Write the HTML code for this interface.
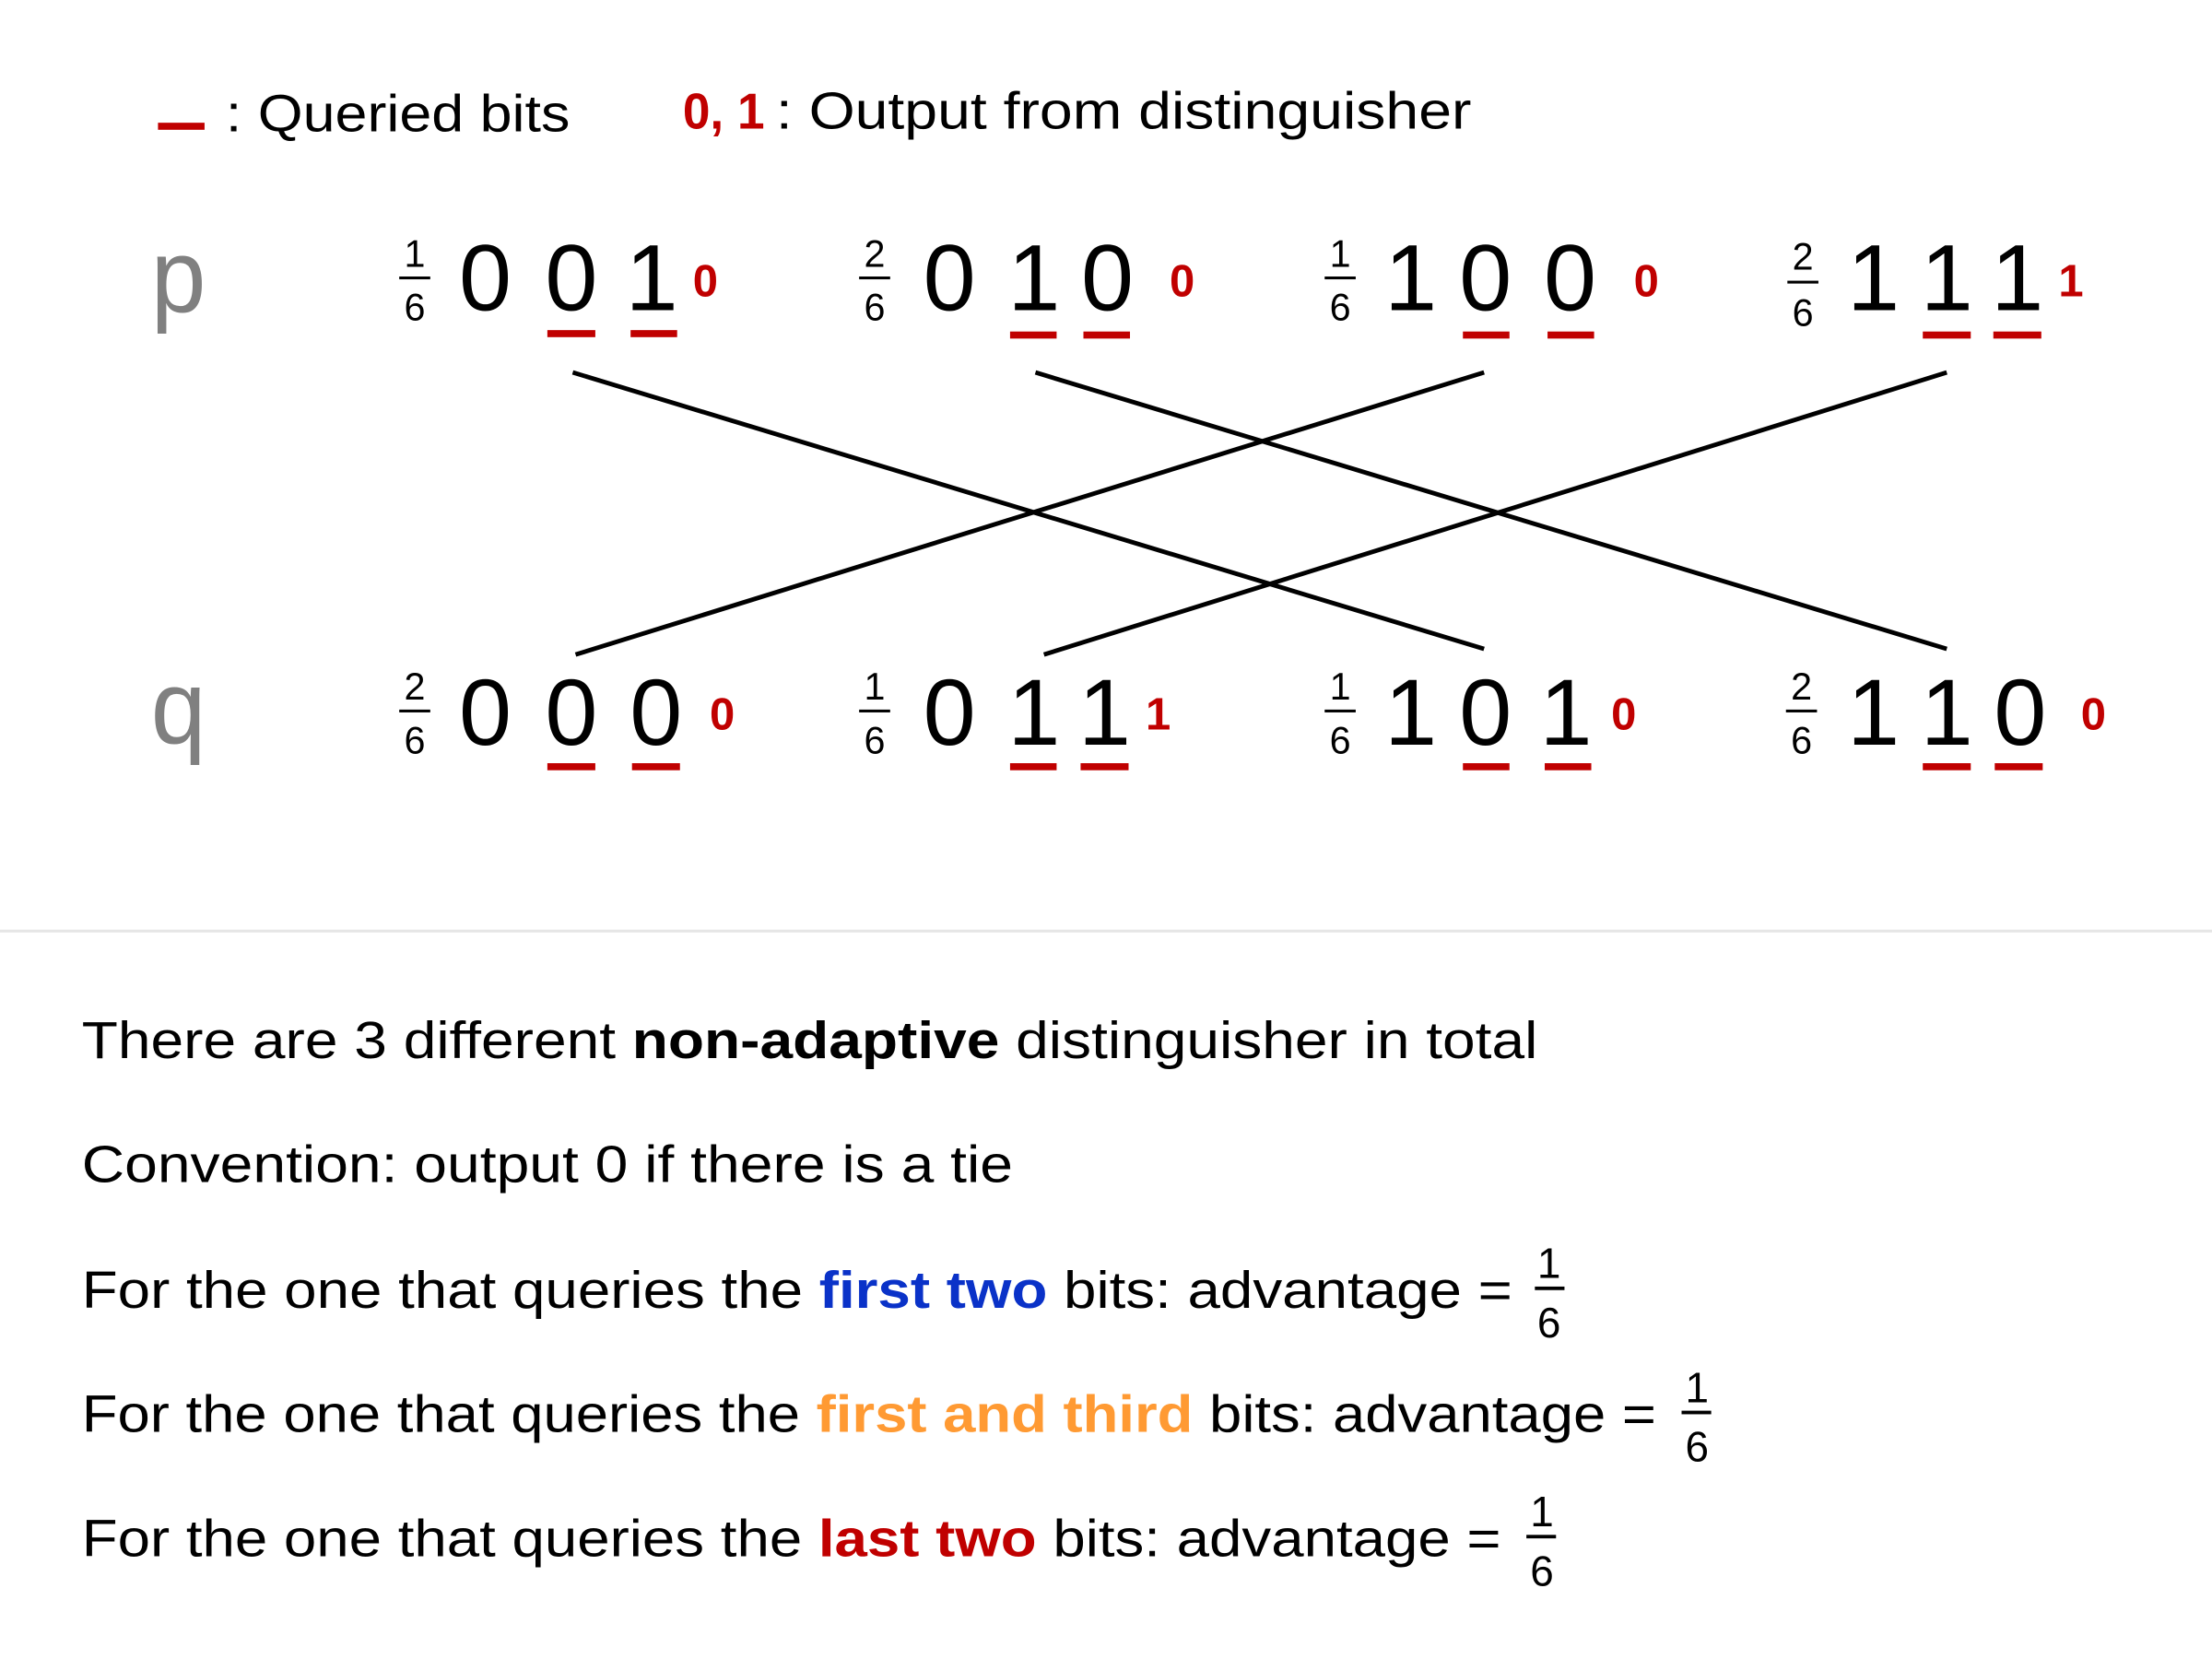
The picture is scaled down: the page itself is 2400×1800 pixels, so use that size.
<!DOCTYPE html>
<html><head><meta charset="utf-8"><style>
html,body{margin:0;padding:0;background:#fff;}
svg{display:block;}
text{font-family:"Liberation Sans",sans-serif;}
</style></head><body>
<svg width="2400" height="1800" viewBox="0 0 1568 1176" xmlns="http://www.w3.org/2000/svg">
<rect width="1568" height="1176" fill="#fff"/>
<rect x="112" y="87" width="33" height="5" fill="#c00000"/>
<text x="160" y="93" font-size="37" textLength="244" lengthAdjust="spacingAndGlyphs">: Queried bits</text>
<text x="484" y="91" font-size="36" font-weight="bold" fill="#c00000" textLength="58" lengthAdjust="spacingAndGlyphs">0, 1</text>
<text x="550" y="91" font-size="37" textLength="493" lengthAdjust="spacingAndGlyphs">: Output from distinguisher</text>

<text x="107" y="221" font-size="74" fill="#808080" textLength="39" lengthAdjust="spacingAndGlyphs">p</text>
<text x="107" y="527" font-size="74" fill="#808080" textLength="39" lengthAdjust="spacingAndGlyphs">q</text>

<g font-size="67" text-anchor="middle">
<text x="344" y="220">0</text><text x="405" y="220">0</text><text x="462" y="220">1</text>
<text x="673" y="220">0</text><text x="733" y="220">1</text><text x="785" y="220">0</text>
<text x="1000" y="220">1</text><text x="1053" y="220">0</text><text x="1113" y="220">0</text>
<text x="1328" y="220">1</text><text x="1380" y="220">1</text><text x="1430" y="220">1</text>

<text x="344" y="528">0</text><text x="405" y="528">0</text><text x="465" y="528">0</text>
<text x="673" y="528">0</text><text x="733" y="528">1</text><text x="783" y="528">1</text>
<text x="1000" y="528">1</text><text x="1053" y="528">0</text><text x="1110" y="528">1</text>
<text x="1328" y="528">1</text><text x="1380" y="528">1</text><text x="1432" y="528">0</text>
</g>

<g font-size="32" font-weight="bold" fill="#c00000" text-anchor="middle">
<text x="500" y="210">0</text><text x="838" y="210">0</text><text x="1167" y="210">0</text><text x="1468" y="210">1</text>
<text x="512" y="517">0</text><text x="821" y="517">1</text><text x="1151" y="517">0</text><text x="1484" y="517">0</text>
</g>

<g font-size="27" text-anchor="middle">
<text x="294" y="189">1</text><rect x="283" y="196" width="22" height="2" fill="#000"/><text x="294" y="227">6</text>
<text x="620" y="189">2</text><rect x="609" y="196" width="22" height="2" fill="#000"/><text x="620" y="227">6</text>
<text x="950" y="189">1</text><rect x="939" y="196" width="22" height="2" fill="#000"/><text x="950" y="227">6</text>
<text x="1278" y="191">2</text><rect x="1267" y="199" width="22" height="2" fill="#000"/><text x="1278" y="231">6</text>

<text x="294" y="496">2</text><rect x="283" y="503" width="22" height="2" fill="#000"/><text x="294" y="534">6</text>
<text x="620" y="496">1</text><rect x="609" y="503" width="22" height="2" fill="#000"/><text x="620" y="534">6</text>
<text x="950" y="496">1</text><rect x="939" y="503" width="22" height="2" fill="#000"/><text x="950" y="534">6</text>
<text x="1277" y="496">2</text><rect x="1266" y="503" width="22" height="2" fill="#000"/><text x="1277" y="534">6</text>
</g>

<g fill="#c00000">
<rect x="388" y="234" width="34" height="5"/><rect x="447" y="234" width="33" height="5"/>
<rect x="716" y="235" width="33" height="5"/><rect x="768" y="235" width="33" height="5"/>
<rect x="1037" y="235" width="33" height="5"/><rect x="1097" y="235" width="33" height="5"/>
<rect x="1363" y="235" width="34" height="5"/><rect x="1413" y="235" width="34" height="5"/>

<rect x="388" y="541" width="34" height="5"/><rect x="448" y="541" width="34" height="5"/>
<rect x="716" y="541" width="33" height="5"/><rect x="766" y="541" width="34" height="5"/>
<rect x="1037" y="541" width="33" height="5"/><rect x="1095" y="541" width="33" height="5"/>
<rect x="1363" y="541" width="34" height="5"/><rect x="1414" y="541" width="34" height="5"/>
</g>

<g stroke="#000" stroke-width="3.2">
<line x1="406" y1="264" x2="1052" y2="460"/>
<line x1="734" y1="264" x2="1380" y2="460"/>
<line x1="1052" y1="264" x2="408" y2="464"/>
<line x1="1380" y1="264" x2="740" y2="464"/>
</g>

<rect x="0" y="659" width="1568" height="2" fill="#e6e6e6"/>

<g font-size="37">
<text x="58" y="750" textLength="1032" lengthAdjust="spacingAndGlyphs">There are 3 different <tspan font-weight="bold">non-adaptive</tspan> distinguisher in total</text>
<text x="58" y="838" textLength="660" lengthAdjust="spacingAndGlyphs">Convention: output 0 if there is a tie</text>
<text x="58" y="927" textLength="1014" lengthAdjust="spacingAndGlyphs">For the one that queries the <tspan font-weight="bold" fill="#0a32c8">first two</tspan> bits: advantage =</text>
<text x="58" y="1015" textLength="1116" lengthAdjust="spacingAndGlyphs">For the one that queries the <tspan font-weight="bold" fill="#ff9a33">first and third</tspan> bits: advantage =</text>
<text x="58" y="1103" textLength="1006" lengthAdjust="spacingAndGlyphs">For the one that queries the <tspan font-weight="bold" fill="#c00000">last two</tspan> bits: advantage =</text>
</g>
<g font-size="30" text-anchor="middle">
<text x="1098" y="906">1</text><rect x="1088" y="912" width="21" height="2.5" fill="#000"/><text x="1098" y="948">6</text>
<text x="1203" y="994">1</text><rect x="1192" y="1000" width="21" height="2.5" fill="#000"/><text x="1203" y="1036">6</text>
<text x="1093" y="1082">1</text><rect x="1082" y="1088" width="21" height="2.5" fill="#000"/><text x="1093" y="1124">6</text>
</g>
</svg>
</body></html>
